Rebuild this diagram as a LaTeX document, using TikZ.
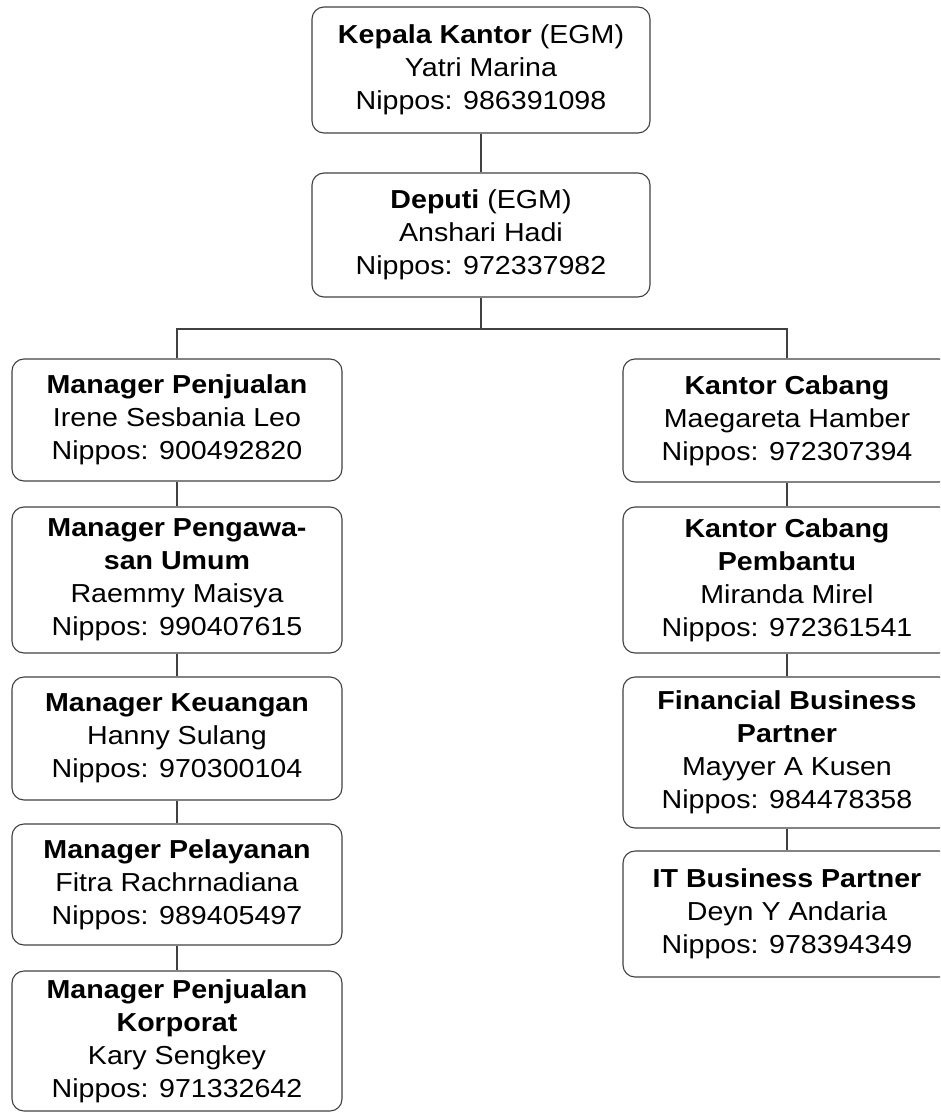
\documentclass[tikz,border=0pt]{standalone}
\usepackage{fontspec}
\setmainfont{Liberation Sans}[FakeStretch=1.1]
\begin{document}
\begin{tikzpicture}[x=1pt,y=-1pt,
        every node/.style={rectangle,draw=black!75,line width=1.1pt,rounded corners=12pt,align=center,
          inner sep=0pt,font=\fontsize{26}{33}\selectfont},
        boss/.style={minimum width=338pt}, staff/.style={minimum width=330pt}, branch/.style={minimum width=328pt},
        link/.style={draw=black!75,line width=1.1pt}]
        \useasboundingbox (0,0) rectangle (940,1113);
        \clip (0,0) rectangle (940,1113);
        \node[boss,minimum height=126pt] (kepala) at (481,70) {\textbf{Kepala Kantor} (EGM)\\Yatri Marina\\Nippos: 986391098};
        \node[boss,minimum height=124pt] (deputi) at (481,235) {\textbf{Deputi} (EGM)\\Anshari Hadi\\Nippos: 972337982};
        % left column
        \node[staff,minimum height=122pt] (penjualan) at (177,420) {\textbf{Manager Penjualan}\\Irene Sesbania Leo\\Nippos: 900492820};
        \node[staff,minimum height=146pt] (pengawasan) at (177,580) {\textbf{Manager Pengawa-}\\\textbf{san Umum}\\Raemmy Maisya\\Nippos: 990407615};
        \node[staff,minimum height=123pt] (keuangan) at (177,738.5) {\textbf{Manager Keuangan}\\Hanny Sulang\\Nippos: 970300104};
        \node[staff,minimum height=121pt] (pelayanan) at (177,884.5) {\textbf{Manager Pelayanan}\\Fitra Rachrnadiana\\Nippos: 989405497};
        \node[staff,minimum height=140pt] (korporat) at (177,1041) {\textbf{Manager Penjualan}\\\textbf{Korporat}\\Kary Sengkey\\Nippos: 971332642};
        % right column
        \node[branch,minimum height=123pt] (cabang) at (787,420.5) {\textbf{Kantor Cabang}\\Maegareta Hamber\\Nippos: 972307394};
        \node[branch,minimum height=146pt] (pembantu) at (787,580) {\textbf{Kantor Cabang}\\\textbf{Pembantu}\\Miranda Mirel\\Nippos: 972361541};
        \node[branch,minimum height=151pt] (finance) at (787,752.5) {\textbf{Financial Business}\\\textbf{Partner}\\Mayyer A Kusen\\Nippos: 984478358};
        \node[branch,minimum height=126pt] (itbp) at (787,914) {\textbf{IT Business Partner}\\Deyn Y Andaria\\Nippos: 978394349};
        \coordinate (bus) at (481,329);
        \draw[link] (kepala) -- (deputi);
        \draw[link] (deputi) -- (bus);
        \draw[link] (penjualan.north) |- (bus) -| (cabang.north);
        \draw[link] (penjualan) -- (pengawasan);
        \draw[link] (pengawasan) -- (keuangan);
        \draw[link] (keuangan) -- (pelayanan);
        \draw[link] (pelayanan) -- (korporat);
        \draw[link] (cabang) -- (pembantu);
        \draw[link] (pembantu) -- (finance);
        \draw[link] (finance) -- (itbp);
\end{tikzpicture}
\end{document}
